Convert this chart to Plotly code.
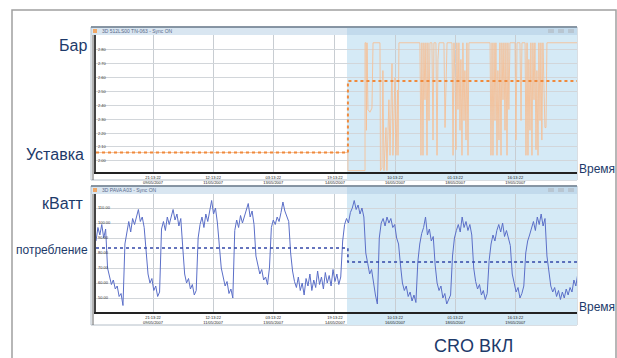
import plotly.graph_objects as go
from plotly.subplots import make_subplots

# ---------------- data ----------------
# time axis in hours since start of recording
tick_hours = [37, 76, 115, 155, 194, 233, 272]
tick_labels = ["21:13:22<br>09/05/2007", "12:13:22<br>11/05/2007", "03:13:22<br>13/05/2007",
               "19:13:22<br>14/05/2007", "10:13:22<br>16/05/2007", "01:13:22<br>18/05/2007",
               "16:13:22<br>19/05/2007"]
cro_on_hour = 163.4
end_hour = 312

# pressure (bar)
pressure_hours = [0, 163.4, 163.4, 174.5, 174.5, 175.1, 175.4, 175.8, 176.4, 177.7, 179.0, 179.7,
                  184.2, 184.5, 185.5, 186.1, 186.8, 188.1, 188.7, 190.0, 190.7, 192.0, 192.6, 193.9,
                  194.6, 195.6, 195.9, 196.5, 210.1, 210.8, 211.4, 212.1, 212.7, 213.4, 214.0, 214.7,
                  215.3, 216.0, 216.6, 217.9, 218.6, 219.2, 220.5, 221.2, 221.8, 222.5, 225.7, 226.4,
                  227.7, 230.9, 231.6, 232.2, 232.9, 233.5, 234.1, 234.8, 235.4, 236.1, 236.7, 237.4,
                  238.0, 238.7, 239.3, 240.0, 240.6, 241.3, 241.9, 255.6, 256.2, 256.9, 257.5, 258.2,
                  258.8, 259.4, 260.1, 260.7, 261.4, 262.0, 262.7, 263.3, 264.0, 264.6, 265.3, 265.9,
                  266.6, 267.2, 267.8, 268.5, 271.8, 272.4, 273.1, 275.0, 275.7, 276.3, 278.3, 278.9,
                  279.6, 280.2, 280.8, 281.5, 282.1, 282.8, 283.4, 284.1, 284.7, 285.4, 286.0, 286.7,
                  287.3, 288.0, 288.6, 289.2, 289.9, 290.6, 291.2, 291.9, 292.5, 312.0]
pressure_bar = [2.06, 2.06, 1.93, 1.93, 2.85, 2.85, 2.22, 2.85, 2.37, 2.35, 2.38, 2.85,
                2.85, 1.93, 1.95, 2.65, 1.93, 2.24, 1.93, 2.44, 2.04, 2.70, 2.04, 2.60,
                2.04, 2.51, 2.04, 2.85, 2.85, 2.04, 2.85, 2.04, 2.85, 2.44, 2.85, 2.04,
                2.85, 2.29, 2.85, 2.85, 2.15, 2.85, 2.85, 2.04, 2.73, 2.85, 2.85, 2.24,
                2.85, 2.85, 2.04, 2.85, 2.58, 2.08, 2.85, 2.37, 2.85, 2.22, 2.73, 2.04,
                2.85, 2.29, 2.65, 2.15, 2.85, 2.04, 2.85, 2.85, 2.04, 2.85, 2.04, 2.85,
                2.29, 2.85, 2.04, 2.65, 2.15, 2.85, 2.04, 2.85, 2.44, 2.85, 2.22, 2.85,
                2.04, 2.85, 2.37, 2.85, 2.85, 2.15, 2.85, 2.85, 2.29, 2.85, 2.85, 2.04,
                2.85, 2.04, 2.73, 2.22, 2.85, 2.04, 2.85, 2.44, 2.85, 2.08, 2.65, 2.04,
                2.85, 2.29, 2.85, 2.15, 2.85, 2.37, 2.24, 2.24, 2.85, 2.85]

setpoint_hours = [0, 163.4, 163.4, 312]
setpoint_bar = [2.06, 2.06, 2.575, 2.575]

# power consumption (kW), sampled every 1.25 h
sample_step_h = 1.25
power_kw = [88, 97, 92, 99, 90, 96,
            70,
            64, 59, 62, 56, 58, 51, 53, 45,
            86, 95, 101, 94, 103, 99, 104, 109, 101, 104, 97,
            80, 66, 60, 63, 55, 58, 51, 54,
            96, 101, 95, 104, 99, 105, 109, 102, 106, 98, 103, 84,
            66, 60, 63, 56, 59, 52, 55,
            90, 99, 104, 97, 106, 101, 108, 115, 106, 110, 100, 83,
            70, 64, 58, 61, 53, 56, 50,
            95, 102, 97, 105, 100, 104, 108, 113, 104, 108, 99, 78,
            72, 66, 69, 62, 64, 59,
            70, 97, 102, 99, 104, 101, 107, 114, 108, 105, 101, 80,
            68, 61, 57, 64, 55, 60, 52, 63, 58, 66, 55, 62, 57, 68, 59, 64, 56, 67, 60, 65,
            58, 69, 61, 66, 59, 64,
            88, 99, 103, 100, 107, 110, 115, 109, 112, 106, 110, 104, 80,
            73, 66, 69, 60, 52, 46,
            90, 100, 103, 98, 104, 100, 103, 97, 99, 90, 86, 72,
            60, 55, 58, 51, 54, 48, 52, 47,
            74, 86, 93, 97, 104, 92, 96, 88, 91, 72,
            60, 55, 58, 50, 53, 46, 49, 52,
            78, 90, 95, 99, 94, 104, 97, 101, 95, 99, 92, 70,
            61, 56, 59, 52, 55, 49, 53,
            75, 86, 92, 88, 95, 99, 94, 100, 91, 95, 89, 85, 66,
            60, 54, 57, 50, 53, 58,
            80, 88, 92, 97, 101, 95, 104, 99, 106, 98, 103, 78,
            66, 58, 54, 57, 51, 55, 49, 54, 50, 56, 52, 57, 54, 62, 58, 66]
power_hours = [i * sample_step_h for i in range(len(power_kw))]

avg_hours = [0, 163.4, 163.4, 312]
avg_kw = [83.3, 83.3, 74.0, 74.0]

pressure_ticks = [2.0, 2.1, 2.2, 2.3, 2.4, 2.5, 2.6, 2.7, 2.8]
power_ticks = [50, 60, 70, 80, 90, 100, 110]

# ---------------- figure ----------------
W, H = 617, 358
def px(x):
    return x / W
def py(y):
    return 1 - y / H

fig = make_subplots(rows=2, cols=1)

fig.add_trace(go.Scatter(x=pressure_hours, y=pressure_bar, mode="lines",
                         line=dict(color="#f5bf96", width=0.9), hoverinfo="skip"),
              row=1, col=1)
fig.add_trace(go.Scatter(x=setpoint_hours, y=setpoint_bar, mode="lines",
                         line=dict(color="#f08a3c", width=2, dash="dot"), hoverinfo="skip"),
              row=1, col=1)
fig.add_trace(go.Scatter(x=power_hours, y=power_kw, mode="lines",
                         line=dict(color="#5b6fc8", width=1), hoverinfo="skip"),
              row=2, col=1)
fig.add_trace(go.Scatter(x=avg_hours, y=avg_kw, mode="lines",
                         line=dict(color="#3347a8", width=1.5, dash="dot"), hoverinfo="skip"),
              row=2, col=1)

xdom = [px(96), px(577)]
common_x = dict(range=[0, end_hour], tickvals=tick_hours, ticktext=tick_labels,
                showgrid=True, gridcolor="#c8cdd2", gridwidth=1, zeroline=False,
                showline=True, linecolor="#222222", linewidth=2, ticks="",
                tickfont=dict(size=4, color="#222222", family="Liberation Sans"),
                fixedrange=True)
fig.update_xaxes(domain=xdom, **common_x)
fig.update_yaxes(showgrid=True, gridcolor="#d2d6da", gridwidth=1, zeroline=False,
                 showline=True, linecolor="#444444", linewidth=1.5, ticks="",
                 ticklabelposition="inside", tickformat=".2f",
                 tickfont=dict(size=4, color="#333333", family="Liberation Sans"),
                 fixedrange=True)
fig.update_yaxes(domain=[py(172), py(35)], range=[1.92, 2.906], tickvals=pressure_ticks, row=1, col=1)
fig.update_yaxes(domain=[py(312), py(194)], range=[40.67, 119.33], tickvals=power_ticks, row=2, col=1)

shapes = []
def rect(x0, y0, x1, y1, fill=None, line=None, lw=0):
    shapes.append(dict(type="rect", xref="paper", yref="paper", layer="below",
                       x0=px(x0), x1=px(x1), y0=py(y1), y1=py(y0),
                       fillcolor=fill if fill else "rgba(0,0,0,0)",
                       line=dict(color=line if line else "rgba(0,0,0,0)", width=lw)))
def hline(x0, x1, y, color, lw):
    shapes.append(dict(type="line", xref="paper", yref="paper", layer="below",
                       x0=px(x0), x1=px(x1), y0=py(y), y1=py(y), line=dict(color=color, width=lw)))
def vline(x, y0, y1, color, lw):
    shapes.append(dict(type="line", xref="paper", yref="paper", layer="below",
                       x0=px(x), x1=px(x), y0=py(y0), y1=py(y1), line=dict(color=color, width=lw)))

# outer frame
rect(12, 10, 616, 364, line="#a0a0a0", lw=1.5)
for (top, bot) in [(27, 180), (186, 325)]:
    rect(91, top, 577, bot, fill="#ffffff", line="#b4bec8", lw=1)
    rect(347, top, 577, bot, fill="#d5eaf6")
    rect(91, top, 577, top + 8, fill="rgba(170,200,225,0.45)")
    hline(91, 577, top, "#6e7e8e", 1.5)
    vline(93, top + 8, bot, "#666666", 1)
    # window icon and buttons
    rect(93, top + 2, 97, top + 6, fill="#f0a868")
    for bx in (548, 558, 568):
        rect(bx, top + 2, bx + 6, top + 6, fill="#b8c6d2")

annotations = []
def label(text, x, y, size, anchor="right", family="Liberation Sans", color="#1d3a6a"):
    annotations.append(dict(text=text, x=px(x), y=py(y), xref="paper", yref="paper",
                            xanchor=anchor, yanchor="middle", showarrow=False,
                            font=dict(size=size, color=color, family=family)))

label("Бар", 89, 45, 16)
label("Уставка", 86, 154, 16)
label("кВатт", 86, 204, 16)
label("потребление", 90, 250, 12)
label("Время", 577, 169, 12, anchor="left")
label("Время", 577, 307, 12, anchor="left")
label("CRO ВКЛ", 473, 346, 18, anchor="center")
label("3D 512LS00 TN-063 - Sync ON", 100, 31, 5, anchor="left", color="#5a6a8a")
label("3D PAVA A03 - Sync ON", 100, 190, 5, anchor="left", color="#5a6a8a")

fig.update_layout(width=W, height=H, margin=dict(l=0, r=0, t=0, b=0),
                  paper_bgcolor="#ffffff", plot_bgcolor="rgba(0,0,0,0)",
                  showlegend=False, shapes=shapes, annotations=annotations,
                  hovermode=False)

fig.write_html("out.html", config={"displayModeBar": False},
               post_script="document.body.style.margin='0';document.body.style.overflow='hidden';")
